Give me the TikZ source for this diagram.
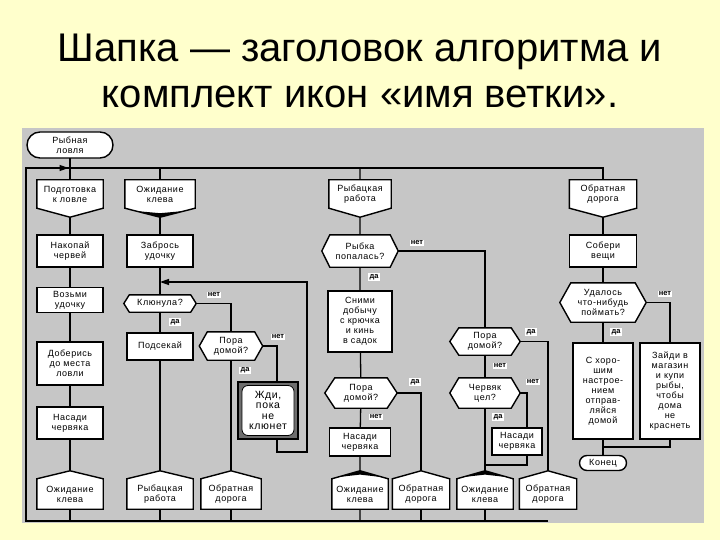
\documentclass[tikz,border=0pt]{standalone}
\usepackage{fontspec}
\setmainfont{Liberation Sans}
\newfontfamily\nodefont[LetterSpace=6]{Liberation Sans}
\usetikzlibrary{arrows.meta,calc}
\pgfdeclarelayer{back}
\pgfdeclarelayer{lines}
\pgfdeclarelayer{shapes}
\pgfsetlayers{back,lines,shapes,main}
\definecolor{bgyellow}{RGB}{255,255,204}
\definecolor{panelgrey}{RGB}{198,198,198}
\definecolor{framegrey}{RGB}{110,110,110}
\tikzset{
  ln/.style={line width=1.3pt, draw=black},
  arr/.style={ln, -{Triangle[length=9pt,width=6pt]}},
  shp/.style={line width=1.4pt, draw=black, fill=white, line join=miter},
  txt/.style={font=\nodefont\fontsize{9}{10}\selectfont, align=center, inner sep=0pt, text=black},
  actbox/.style={txt, draw=black, fill=white, line width=1.4pt},
  term/.style={actbox, rounded corners=#1},
  lbl/.style={fill=white, inner sep=1.2pt, font=\fontsize{7.5}{8}\selectfont\bfseries},
}
% shape outlines drawn around named nodes
\newcommand\drkHead[1]{\begin{pgfonlayer}{shapes}\filldraw[shp] (#1.north west) -- (#1.north east) -- (#1.south east) -- ([yshift=-9pt]#1.south) -- (#1.south west) -- cycle;\end{pgfonlayer}}
\newcommand\drkAddr[1]{\begin{pgfonlayer}{shapes}\filldraw[shp] (#1.south west) -- (#1.north west) -- ([yshift=8pt]#1.north) -- (#1.north east) -- (#1.south east) -- cycle;\end{pgfonlayer}}
\newcommand\drkDec[2]{\begin{pgfonlayer}{shapes}\filldraw[shp] (#1.west) -- ([xshift=#2]#1.north west) -- ([xshift=-#2]#1.north east) -- (#1.east) -- ([xshift=-#2]#1.south east) -- ([xshift=#2]#1.south west) -- cycle;\end{pgfonlayer}}
\newcommand\drkWedgeDown[1]{\begin{pgfonlayer}{shapes}\fill[black] ($(#1.south)+(-24pt,-2.8pt)$) -- ($(#1.south)+(0,-9pt)$) -- ($(#1.south)+(24pt,-2.8pt)$) -- ($(#1.south)+(0,-5pt)$) -- cycle;\end{pgfonlayer}}
\newcommand\drkWedgeUp[1]{\begin{pgfonlayer}{shapes}\fill[black] ($(#1.north)+(-22pt,1.7pt)$) -- ($(#1.north)+(0,8pt)$) -- ($(#1.north)+(22pt,1.7pt)$) -- ($(#1.north)+(0,4.2pt)$) -- cycle;\end{pgfonlayer}}
\begin{document}
\begin{tikzpicture}[x=1pt,y=-1pt]
\begin{pgfonlayer}{back}
  \fill[bgyellow] (0,0) rectangle (720,540);
  \fill[panelgrey] (22,128) rectangle (704,523);
\end{pgfonlayer}
\useasboundingbox (0,0) rectangle (720,540);

% title
\node[anchor=base, font=\fontsize{40}{48}\selectfont] (title1) at (360,62) {Шапка — заголовок алгоритма и};
\node[anchor=base, font=\fontsize{40}{48}\selectfont] (title2) at (360,108) {комплект икон «имя ветки».};

% ---- column 1
\node[term=13pt, minimum width=86pt, minimum height=26pt] (t1) at (70,145) {Рыбная\\ловля};
\node[txt, minimum width=66pt, minimum height=28pt] (h1) at (70,194) {Подготовка\\к ловле};
\node[actbox, minimum width=66pt, minimum height=32pt] (r1) at (70,251) {Накопай\\червей};
\node[actbox, minimum width=66pt, minimum height=25pt] (r2) at (70,300) {Возьми\\удочку};
\node[actbox, minimum width=66pt, minimum height=43pt] (r3) at (70,363.5) {Доберись\\до места\\ловли};
\node[actbox, minimum width=66pt, minimum height=32pt] (r4) at (70,423) {Насади\\червяка};
\node[txt, minimum width=66pt, minimum height=30pt] (a1) at (70,494) {Ожидание\\клева};

% ---- column 2
\node[txt, minimum width=70pt, minimum height=28pt] (h2) at (160,194) {Ожидание\\клева};
\node[actbox, minimum width=66pt, minimum height=32pt] (r5) at (160,251) {Забрось\\удочку};
\node[txt, minimum width=72pt, minimum height=17pt] (d1) at (160,303.5) {Клюнула?};
\node[actbox, minimum width=66pt, minimum height=27pt] (r6) at (160,346.5) {Подсекай};
\node[txt, minimum width=66pt, minimum height=30pt] (a2) at (160,494) {Рыбацкая\\работа};

% ---- column 3
\node[txt, minimum width=63pt, minimum height=28pt] (d2) at (231,346) {Пора\\домой?};
\node[draw=black, fill=framegrey, line width=1.3pt, minimum width=60pt, minimum height=57pt, inner sep=0pt] (wait) at (268,410.5) {};
\node[draw=black, fill=white, line width=0.8pt, rounded corners=6pt, minimum width=52pt, minimum height=50pt, inner sep=0pt, align=center, font=\nodefont\fontsize{10.5}{10.5}\selectfont] (waitin) at (wait.center) {Жди,\\пока\\не\\клюнет};
\node[txt, minimum width=60pt, minimum height=30pt] (a3) at (231,494) {Обратная\\дорога};

% ---- column 4
\node[txt, minimum width=62pt, minimum height=28pt] (h3) at (360,194) {Рыбацкая\\работа};
\node[txt, minimum width=76pt, minimum height=32pt] (d3) at (360,251) {Рыбка\\попалась?};
\node[actbox, minimum width=64pt, minimum height=61pt] (r7) at (360,321.5) {Сними\\добычу\\с крючка\\и кинь\\в садок};
\node[txt, minimum width=72pt, minimum height=30pt] (d4) at (361,393) {Пора\\домой?};
\node[actbox, minimum width=61pt, minimum height=28pt] (r8) at (360,442) {Насади\\червяка};
\node[txt, minimum width=56pt, minimum height=30pt] (a4) at (360,494) {Ожидание\\клева};
\node[txt, minimum width=57pt, minimum height=30pt] (a5) at (421,494) {Обратная\\дорога};

% ---- column 5
\node[txt, minimum width=70pt, minimum height=27pt] (d5) at (485,341.5) {Пора\\домой?};
\node[txt, minimum width=70pt, minimum height=30pt] (d6) at (485,393) {Червяк\\цел?};
\node[actbox, minimum width=50pt, minimum height=27pt] (r9) at (517,441.5) {Насади\\червяка};
\node[txt, minimum width=56pt, minimum height=30pt] (a6) at (485,494) {Ожидание\\клева};
\node[txt, minimum width=57pt, minimum height=30pt] (a7) at (548,494) {Обратная\\дорога};

% ---- column 6
\node[txt, minimum width=67pt, minimum height=28pt] (h4) at (603,194) {Обратная\\дорога};
\node[actbox, minimum width=67pt, minimum height=32pt] (r10) at (603,251) {Собери\\вещи};
\node[txt, minimum width=86pt, minimum height=39pt] (d7) at (603,302.5) {Удалось\\что-нибудь\\поймать?};
\node[actbox, minimum width=60pt, minimum height=96pt] (r11) at (603,391) {С хоро-\\шим\\настрое-\\нием\\отправ-\\ляйся\\домой};
\node[actbox, minimum width=60pt, minimum height=96pt] (r12) at (670,391) {Зайди в\\магазин\\и купи\\рыбы,\\чтобы\\дома\\не\\краснеть};
\node[term=7.5pt, minimum width=47pt, minimum height=15pt] (t2) at (603,463) {Конец};

% shapes
\drkHead{h1}\drkHead{h2}\drkHead{h3}\drkHead{h4}
\drkWedgeDown{h2}
\drkAddr{a1}\drkAddr{a2}\drkAddr{a3}\drkAddr{a4}\drkAddr{a5}\drkAddr{a6}\drkAddr{a7}
\drkWedgeUp{a4}\drkWedgeUp{a6}
\drkDec{d1}{5.5pt}\drkDec{d2}{8pt}\drkDec{d3}{8pt}\drkDec{d4}{10pt}
\drkDec{d5}{9pt}\drkDec{d6}{9pt}\drkDec{d7}{11pt}

% bus coordinates
\coordinate (busTL) at (26,168);
\coordinate (busBL) at (26,521);
\coordinate (lpR) at (307,282);
\coordinate (lpB) at (307,452);
\coordinate (m9) at (485,465);
\coordinate (m12) at (603,447);

\begin{pgfonlayer}{lines}
  % silhouette buses
  \draw[ln] (a7.center |- busBL) -- (busBL) -- (busTL) -- (h4.center |- busTL) -- (h4.center);
  \draw[arr] (busTL) -- ([xshift=-1.5pt]t1.center |- busTL);
  % column 1
  \draw[ln] (t1.center) -- (h1.center) -- (r1.center) -- (r2.center) -- (r3.center) -- (r4.center) -- (a1.center) -- (a1.center |- busBL);
  % column 2
  \draw[ln] (h2.center |- busTL) -- (h2.center) -- (r5.center) -- (d1.center) -- (r6.center) -- (a2.center) -- (a2.center |- busBL);
  \draw[ln] (d1.east) -| (d2.center);
  \draw[ln] (d2.center) -- (a3.center) -- (a3.center |- busBL);
  \draw[ln] (d2.east) -| ([xshift=9pt]wait.north);
  \draw[arr] ([xshift=9pt]wait.south) |- (lpB) -- (lpR) -- (r5.center |- lpR);
  % column 4
  \draw[ln] (h3.center |- busTL) -- (h3.center) -- (d3.center) -- (r7.center) -- (d4.center) -- (r8.center) -- (a4.center) -- (a4.center |- busBL);
  \draw[ln] (d3.east) -| (d5.center);
  \draw[ln] (d4.east) -| (a5.center);
  \draw[ln] (a5.center) -- (a5.center |- busBL);
  % column 5
  \draw[ln] (d5.center) -- (d6.center) -- (a6.center) -- (a6.center |- busBL);
  \draw[ln] (d5.east) -| (a7.center);
  \draw[ln] (d6.east) -| ([xshift=10pt]r9.north);
  \draw[ln] ([xshift=10pt]r9.south) |- (m9);
  % column 6
  \draw[ln] (h4.center) -- (r10.center) -- (d7.center) -- (r11.center) -- (t2.center);
  \draw[ln] (d7.east) -| (r12.center);
  \draw[ln] (r12.center) |- (m12);
\end{pgfonlayer}

% labels
\node[lbl] (l1) at (214,295) {нет};
\node[lbl] (l2) at (175,322) {да};
\node[lbl] (l3) at (278,337) {нет};
\node[lbl] (l4) at (245,370.5) {да};
\node[lbl] (l5) at (417,243) {нет};
\node[lbl] (l6) at (374,277) {да};
\node[lbl] (l7) at (415,382) {да};
\node[lbl] (l8) at (376,417) {нет};
\node[lbl] (l9) at (531,332) {да};
\node[lbl] (l10) at (500,366) {нет};
\node[lbl] (l11) at (533,382) {нет};
\node[lbl] (l12) at (498,417) {да};
\node[lbl] (l13) at (665,294) {нет};
\node[lbl] (l14) at (616,332) {да};
\end{tikzpicture}
\end{document}
